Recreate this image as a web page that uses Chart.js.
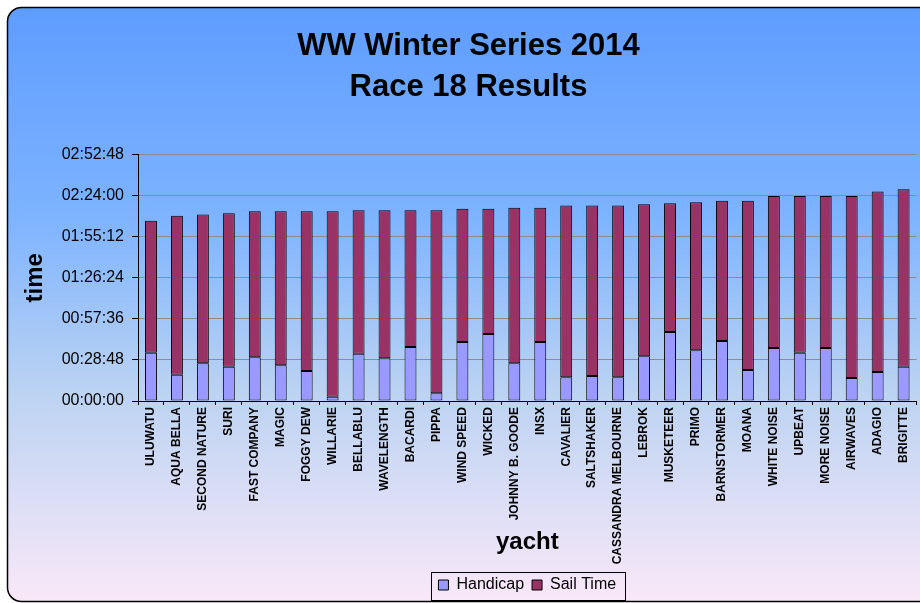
<!DOCTYPE html>
<html>
<head>
<meta charset="utf-8">
<script src="https://cdn.jsdelivr.net/npm/chart.js@4.4.1/dist/chart.umd.min.js"></script>
<style>
  html, body { margin: 0; padding: 0; background: #fff; overflow: hidden; }
  #wrap { width: 920px; height: 603px; position: relative; }
</style>
</head>
<body>
<div id="wrap"><canvas id="chart"></canvas></div>
<script>
// yachts in finishing order
var yachts = ['ULUWATU', 'AQUA BELLA', 'SECOND NATURE', 'SURI', 'FAST COMPANY', 'MAGIC',
  'FOGGY DEW', 'WILLARIE', 'BELLABLU', 'WAVELENGTH', 'BACARDI', 'PIPPA', 'WIND SPEED',
  'WICKED', 'JOHNNY B. GOODE', 'INSX', 'CAVALIER', 'SALTSHAKER', 'CASSANDRA MELBOURNE',
  'LEBROK', 'MUSKETEER', 'PRIMO', 'BARNSTORMER', 'MOANA', 'WHITE NOISE', 'UPBEAT',
  'MORE NOISE', 'AIRWAVES', 'ADAGIO', 'BRIGITTE'];

var handicap = ['0:33:53', '0:18:27', '0:26:25', '0:24:05', '0:30:38', '0:25:01',
  '0:21:03', '0:03:02', '0:33:12', '0:29:56', '0:37:53', '0:05:22', '0:41:23',
  '0:47:00', '0:26:25', '0:41:23', '0:16:36', '0:17:32', '0:16:36',
  '0:31:20', '0:48:24', '0:35:32', '0:42:05', '0:21:45', '0:37:11', '0:33:53',
  '0:37:11', '0:16:08', '0:20:21', '0:24:05'];

var sailTime = ['1:32:23', '1:51:20', '1:44:17', '1:47:34', '1:42:25', '1:48:02',
  '1:52:00', '2:10:01', '1:40:33', '1:43:49', '1:35:52', '2:08:23', '1:33:18',
  '1:27:41', '1:48:58', '1:34:00', '2:00:25', '1:59:29', '2:00:25',
  '1:46:37', '1:30:16', '1:43:50', '1:38:13', '1:58:33', '1:46:29', '1:49:47',
  '1:46:29', '2:07:32', '2:06:30', '2:04:24'];

// y axis: 00:00:00 .. 02:52:48 every 00:28:48
var yMax = '2:52:48';
var yStep = '0:28:48';

function toSecs(t) {
  var p = t.split(':');
  return (+p[0]) * 3600 + (+p[1]) * 60 + (+p[2]);
}

function pad(n) {
  return (n < 10 ? '0' : '') + n;
}

function fmt(s) {
  s = Math.round(s);
  return pad(Math.floor(s / 3600)) + ':' + pad(Math.floor(s % 3600 / 60)) + ':' + pad(s % 60);
}

// rounded frame with the blue -> pink wash behind everything
var frame = {
  id: 'frame',
  beforeDraw: function (chart) {
    var ctx = chart.ctx;
    var x = 7.5, y = 7.5, w = 940, h = 594, r = 14;
    var g = ctx.createLinearGradient(0, y, 0, y + h);
    g.addColorStop(0, '#5e9cff');
    g.addColorStop(0.35, '#7db3ff');
    g.addColorStop(0.65, '#bcd3f2');
    g.addColorStop(1, '#f9e8f8');
    ctx.save();
    ctx.beginPath();
    ctx.moveTo(x + r, y);
    ctx.lineTo(x + w - r, y);
    ctx.arcTo(x + w, y, x + w, y + r, r);
    ctx.lineTo(x + w, y + h - r);
    ctx.arcTo(x + w, y + h, x + w - r, y + h, r);
    ctx.lineTo(x + r, y + h);
    ctx.arcTo(x, y + h, x, y + h - r, r);
    ctx.lineTo(x, y + r);
    ctx.arcTo(x, y, x + r, y, r);
    ctx.closePath();
    ctx.fillStyle = g;
    ctx.fill();
    ctx.lineWidth = 1.5;
    ctx.strokeStyle = '#000';
    ctx.stroke();
    ctx.restore();
  }
};

// box round the legend items
var legendBox = {
  id: 'legendBox',
  afterDraw: function (chart) {
    var hb = chart.legend && chart.legend.legendHitBoxes;
    if (!hb || !hb.length) return;
    var l = Infinity, t = Infinity, r = -Infinity, b = -Infinity;
    hb.forEach(function (h) {
      l = Math.min(l, h.left);
      t = Math.min(t, h.top);
      r = Math.max(r, h.left + h.width);
      b = Math.max(b, h.top + h.height);
    });
    var ctx = chart.ctx;
    ctx.save();
    ctx.strokeStyle = '#000';
    ctx.lineWidth = 1;
    ctx.strokeRect(Math.round(l - 7) + 0.5, Math.round(t - 5) + 0.5, Math.round(r - l + 16), Math.round(b - t + 12));
    ctx.restore();
  }
};

Chart.defaults.font.family = '"Liberation Sans", Arial, sans-serif';
Chart.defaults.color = '#000';

new Chart(document.getElementById('chart'), {
  type: 'bar',
  data: {
    labels: yachts,
    datasets: [{
      label: 'Handicap',
      data: handicap.map(toSecs),
      backgroundColor: '#9999ff',
      borderColor: '#000',
      borderWidth: 1,
      borderSkipped: false
    }, {
      label: 'Sail Time',
      data: sailTime.map(toSecs),
      backgroundColor: '#993366',
      borderColor: '#000',
      borderWidth: 1,
      borderSkipped: false
    }]
  },
  options: {
    responsive: true,
    maintainAspectRatio: false,
    animation: false,
    layout: { padding: { left: 17, right: 0, top: 0, bottom: 0 } },
    datasets: { bar: { barPercentage: 0.46, categoryPercentage: 1 } },
    plugins: {
      tooltip: { enabled: false },
      title: {
        display: true,
        text: ['WW Winter Series 2014', 'Race 18 Results'],
        font: { size: 31, weight: 'bold', lineHeight: 1.33 },
        color: '#000',
        padding: { top: 26, bottom: 46 }
      },
      legend: {
        position: 'bottom',
        fullSize: false,
        labels: {
          boxWidth: 10,
          boxHeight: 10,
          padding: 8,
          font: { size: 16 },
          color: '#000'
        }
      }
    },
    scales: {
      x: {
        stacked: true,
        afterFit: function (s) { s.height = 168; },
        grid: { offset: true, drawOnChartArea: false, tickLength: 4, tickColor: '#000' },
        border: { color: '#000', width: 1 },
        ticks: {
          autoSkip: false,
          minRotation: 90,
          maxRotation: 90,
          padding: 2,
          font: { size: 12, weight: 'bold' },
          color: '#000'
        },
        title: {
          display: true,
          text: 'yacht',
          font: { size: 24, weight: 'bold' },
          color: '#000',
          padding: { top: 0, bottom: 12 }
        }
      },
      y: {
        stacked: true,
        min: 0,
        max: toSecs(yMax),
        afterFit: function (s) { s.width = 121; },
        grid: { color: '#8c8c8c', lineWidth: 1, tickLength: 6, tickColor: '#000' },
        border: { color: '#000', width: 1 },
        ticks: {
          stepSize: toSecs(yStep),
          padding: 8,
          font: { size: 16 },
          color: '#000',
          callback: function (v) { return fmt(v); }
        },
        title: {
          display: true,
          text: 'time',
          font: { size: 24, weight: 'bold' },
          color: '#000',
          padding: { top: 4, bottom: 0 }
        }
      }
    }
  },
  plugins: [frame, legendBox]
});
</script>
</body>
</html>
